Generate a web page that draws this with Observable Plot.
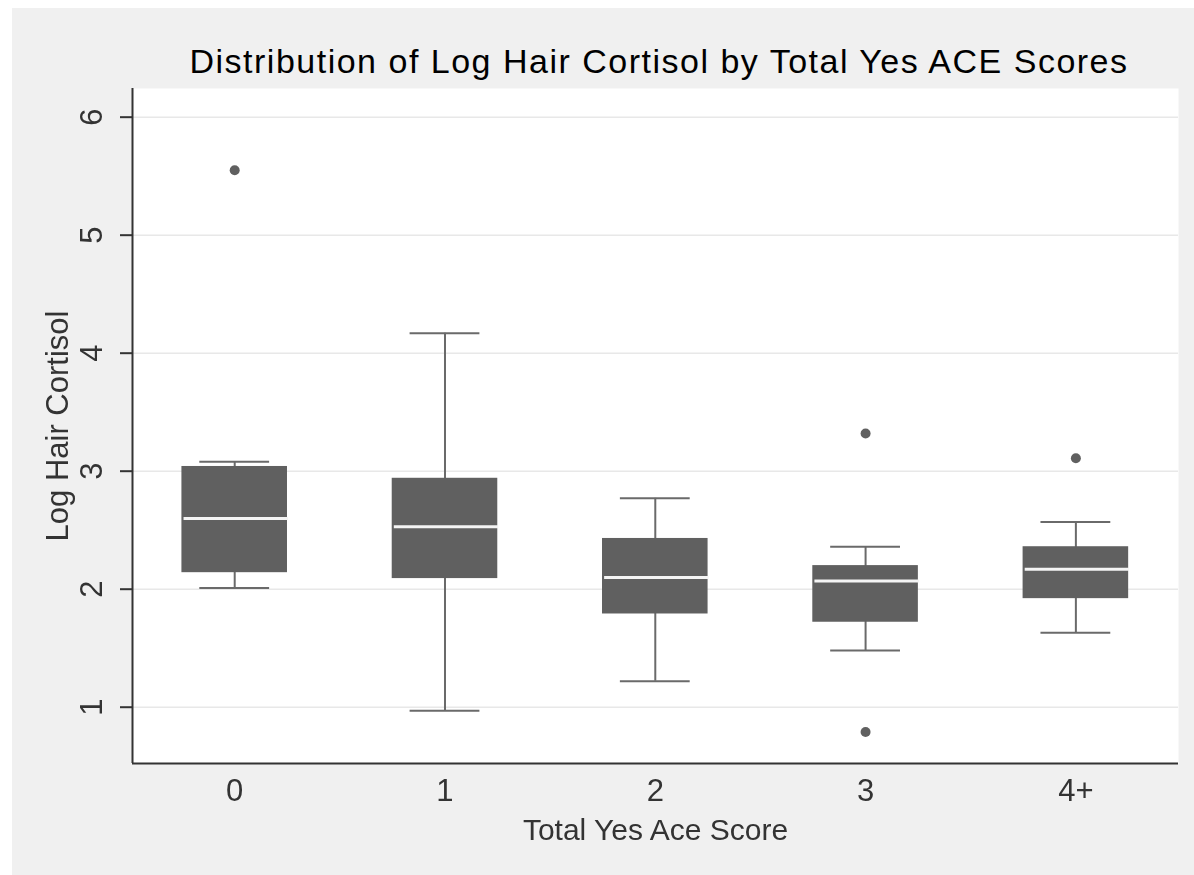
<!DOCTYPE html>
<html>
<head>
<meta charset="utf-8">
<script src="https://cdn.jsdelivr.net/npm/d3@7"></script>
<script src="https://cdn.jsdelivr.net/npm/@observablehq/plot@0.6"></script>
<style>
  html, body { margin: 0; padding: 0; background: #f0f0f0; overflow: hidden; }
  #wrap { position: relative; width: 1194px; height: 875px; background: #f0f0f0; overflow: hidden; }
  #stripTop { position: fixed; left: 0; top: 0; right: 0; height: 8px; background: #ffffff; }
  #stripLeft { position: fixed; left: 0; top: 0; bottom: 0; width: 12px; background: #ffffff; }
  #title { position: absolute; left: 136px; width: 1046px; top: 41px; height: 40px; line-height: 40px;
           text-align: center; font-family: "Liberation Sans", Arial, sans-serif; font-size: 34px; letter-spacing: 1.5px;
           color: #000; margin: 0; font-weight: normal; white-space: nowrap; }
  #chart { position: absolute; left: 0; top: 80px; }
</style>
</head>
<body>
<div id="wrap">
  <div id="stripTop"></div>
  <div id="stripLeft"></div>
  <h1 id="title">Distribution of Log Hair Cortisol by Total Yes ACE Scores</h1>
  <div id="chart"></div>
</div>
<script>
// Data
const categories   = ["0", "1", "2", "3", "4+"];
const whiskerLow   = [2.01, 0.97, 1.22, 1.48, 1.63];
const q1           = [2.14, 2.09, 1.79, 1.72, 1.92];
const median       = [2.60, 2.53, 2.10, 2.07, 2.17];
const q3           = [3.04, 2.94, 2.43, 2.20, 2.36];
const whiskerHigh  = [3.08, 4.17, 2.77, 2.36, 2.57];
const outlierCategory = ["0", "3", "3", "4+"];
const outlierValue    = [5.55, 3.32, 0.79, 3.11];
const yTicks = [1, 2, 3, 4, 5, 6];
const xTitle = "Total Yes Ace Score";
const yTitle = "Log Hair Cortisol";

const boxes = categories.map((c, i) => ({
  cat: c, i, lo: whiskerLow[i], q1: q1[i], med: median[i], q3: q3[i], hi: whiskerHigh[i]
}));
const outliers = outlierCategory.map((c, k) => ({ i: categories.indexOf(c), v: outlierValue[k] }));

const xDomain = [-0.486, 4.488];
const yDomain = [0.523, 6.243];
const boxHalf = 0.251;
const capHalf = 0.166;
const boxColor = "#606060";
const lineColor = "#6a6a6a";
const axisColor = "#333333";
const font = "Liberation Sans, Arial, sans-serif";

const chart = Plot.plot({
  width: 1194,
  height: 795,
  marginTop: 8,
  marginBottom: 112,
  marginLeft: 132,
  marginRight: 16,
  style: { background: "transparent", fontFamily: font },
  x: { type: "linear", domain: xDomain, axis: null },
  y: { domain: yDomain, axis: null },
  marks: [
    Plot.frame({ fill: "white", stroke: "none" }),
    Plot.ruleY(yTicks, { y: d => d, stroke: "#e8e8e8", strokeWidth: 1.5 }),
    // whiskers
    Plot.ruleX(boxes, { x: "i", y1: "lo", y2: "hi", stroke: lineColor, strokeWidth: 2 }),
    Plot.ruleY(boxes, { y: "lo", x1: d => d.i - capHalf, x2: d => d.i + capHalf, stroke: lineColor, strokeWidth: 2 }),
    Plot.ruleY(boxes, { y: "hi", x1: d => d.i - capHalf, x2: d => d.i + capHalf, stroke: lineColor, strokeWidth: 2 }),
    // boxes
    Plot.rect(boxes, { x1: d => d.i - boxHalf, x2: d => d.i + boxHalf, y1: "q1", y2: "q3", fill: boxColor }),
    // medians
    Plot.ruleY(boxes, { y: "med", x1: d => d.i - boxHalf + 0.01, x2: d => d.i + boxHalf + 0.005, stroke: "#f4f4f4", strokeWidth: 3 }),
    // outliers
    Plot.dot(outliers, { x: "i", y: "v", r: 5, fill: boxColor, stroke: "none" }),
    // axis lines
    Plot.ruleX([xDomain[0]], { x: d => d, stroke: axisColor, strokeWidth: 2 }),
    Plot.ruleY([yDomain[0]], { y: d => d, stroke: axisColor, strokeWidth: 2 }),
    // y tick marks
    Plot.axisY({ ticks: yTicks, tickSize: 12, fill: "none", stroke: axisColor, strokeWidth: 2, label: null }),
    // y tick labels (rotated)
    Plot.text(yTicks, { y: d => d, text: d => String(d), frameAnchor: "left", dx: -40, rotate: -90,
      textAnchor: "middle", lineAnchor: "middle", fontSize: 31, fill: "#333" }),
    // x tick labels
    Plot.text(categories, { x: (d, i) => i, text: d => d, frameAnchor: "bottom", dy: 28,
      textAnchor: "middle", lineAnchor: "middle", fontSize: 31, fill: "#333" }),
    // axis titles
    Plot.text([yTitle], { text: d => d, frameAnchor: "left", dx: -74, rotate: -90,
      textAnchor: "middle", lineAnchor: "middle", fontSize: 31, fill: "#333" }),
    Plot.text([xTitle], { text: d => d, frameAnchor: "bottom", dy: 67,
      textAnchor: "middle", lineAnchor: "middle", fontSize: 30, fill: "#333" })
  ]
});
document.getElementById("chart").appendChild(chart);
</script>
</body>
</html>
